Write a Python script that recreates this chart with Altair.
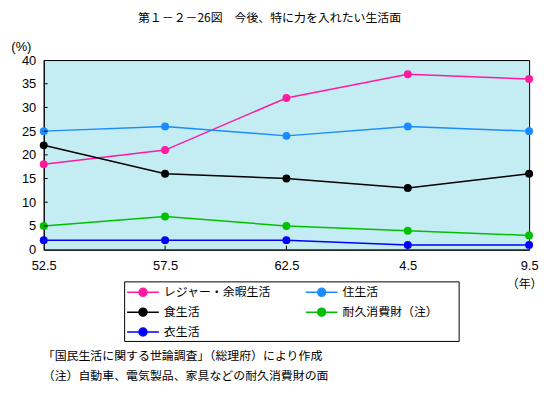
import altair as alt
import pandas as pd

years = ["52.5", "57.5", "62.5", "4.5", "9.5"]
series = ["レジャー・余暇生活", "住生活", "食生活", "耐久消費財（注）", "衣生活"]
colors = ["#ff1aa0", "#1a8cff", "#000000", "#00c000", "#0000ff"]
leisure = [18, 21, 32, 37, 36]
housing = [25, 26, 24, 26, 25]
food = [22, 16, 15, 13, 16]
durable = [5, 7, 5, 4, 3]
clothing = [2, 2, 2, 1, 1]
y_ticks = [0, 5, 10, 15, 20, 25, 30, 35, 40]
notes = ["「国民生活に関する世論調査」（総理府）により作成",
         "（注）自動車、電気製品、家具などの耐久消費財の面"]
title = "第１－２－26図　今後、特に力を入れたい生活面"

rows = []
for name, vals in zip(series, [leisure, housing, food, durable, clothing]):
    for yr, v in zip(years, vals):
        rows.append({"year": yr, "series": name, "value": v})
df = pd.DataFrame(rows)

FONT_JP = "Noto Sans CJK JP"
FONT_NUM = "Liberation Sans"
W, H = 489, 191

xscale = alt.Scale(type="point", domain=years, padding=0)
yscale = alt.Scale(domain=[0, 40], nice=False)
cscale = alt.Scale(domain=series, range=colors)

# unit = 8px: line from -1..3 units, dot at 1; move-to points widen the box
sym_path = ("M-2.625,0M17.6,0"
            "M-1,0L3,0M1.5,0A0.5,0.5 0 1,1 0.5,0"
            "A0.5,0.5 0 1,1 1.5,0Z")

legend = alt.Legend(
    title=None, orient="none", legendX=81, legendY=223, columns=2,
    direction="horizontal",
    symbolType=sym_path, symbolSize=256, symbolStrokeWidth=1.5,
    labelFont=FONT_JP, labelFontSize=12, labelColor="#000000",
    labelOffset=20, labelLimit=300,
    columnPadding=12, rowPadding=4, padding=2,
    strokeColor="#000000", fillColor="#ffffff",
)

xaxis = alt.Axis(title="（年）", titleFont=FONT_JP, titleFontSize=12,
                 titleFontWeight="normal", titleX=484, titleY=34,
                 titleAlign="center", titleBaseline="middle",
                 labelFont=FONT_NUM, labelFontSize=13, labelColor="#000",
                 labelAngle=0, labelPadding=10, ticks=False,
                 domainColor="#000", labelFlush=False)
yaxis = alt.Axis(title="(%)", titleFont=FONT_NUM, titleFontSize=13,
                 titleFontWeight="normal", titleAngle=0,
                 titleX=-23, titleY=-14, titleAlign="center",
                 titleBaseline="middle",
                 values=y_ticks, labelOverlap=False,
                 labelFont=FONT_NUM, labelFontSize=13,
                 labelColor="#000", labelPadding=8, ticks=False,
                 grid=False, domainColor="#000")

base = alt.Chart(df)

lines = base.mark_line(strokeWidth=1.5).encode(
    x=alt.X("year:N", scale=xscale, sort=years, axis=xaxis),
    y=alt.Y("value:Q", scale=yscale, axis=yaxis),
    color=alt.Color("series:N", scale=cscale, legend=legend),
    detail="series:N",
)

points = base.mark_point(filled=True, size=64, opacity=1).encode(
    x=alt.X("year:N", scale=xscale, sort=years, axis=xaxis),
    y=alt.Y("value:Q", scale=yscale, axis=yaxis),
    color=alt.Color("series:N", scale=cscale, legend=legend),
)

ytick_df = pd.DataFrame({"v": y_ticks[1:-1]})
yticks = alt.Chart(ytick_df).mark_rule(color="#000", strokeWidth=1).encode(
    y=alt.Y("v:Q", scale=yscale, axis=yaxis), x=alt.value(0), x2=alt.value(4))

xtick_df = pd.DataFrame({"year": years[1:-1]})
xticks = alt.Chart(xtick_df).mark_rule(color="#000", strokeWidth=1).encode(
    x=alt.X("year:N", scale=xscale, sort=years, axis=xaxis),
    y=alt.value(H - 4), y2=alt.value(H))

note_layer = alt.Chart(pd.DataFrame({"a": [0]})).mark_text(
    text=notes, align="left", baseline="middle", lineHeight=20,
    font=FONT_JP, fontSize=12, color="#000"
).encode(x=alt.value(-1), y=alt.value(298))

chart = alt.layer(lines, points, yticks, xticks, note_layer).properties(
    width=W, height=H,
    title=alt.TitleParams(title, font=FONT_JP, fontSize=12, fontWeight="normal",
                          color="#000", anchor="middle", frame="group",
                          dx=-17, offset=15),
    autosize=alt.AutoSizeParams(type="none"),
    padding={"left": 36, "top": 51, "right": 16, "bottom": 140},
    background="#ffffff",
).configure_view(
    fill="#c3edf2", stroke="#000000", strokeWidth=1
)

chart.save("out.html", embed_options={"renderer": "svg", "actions": False})
